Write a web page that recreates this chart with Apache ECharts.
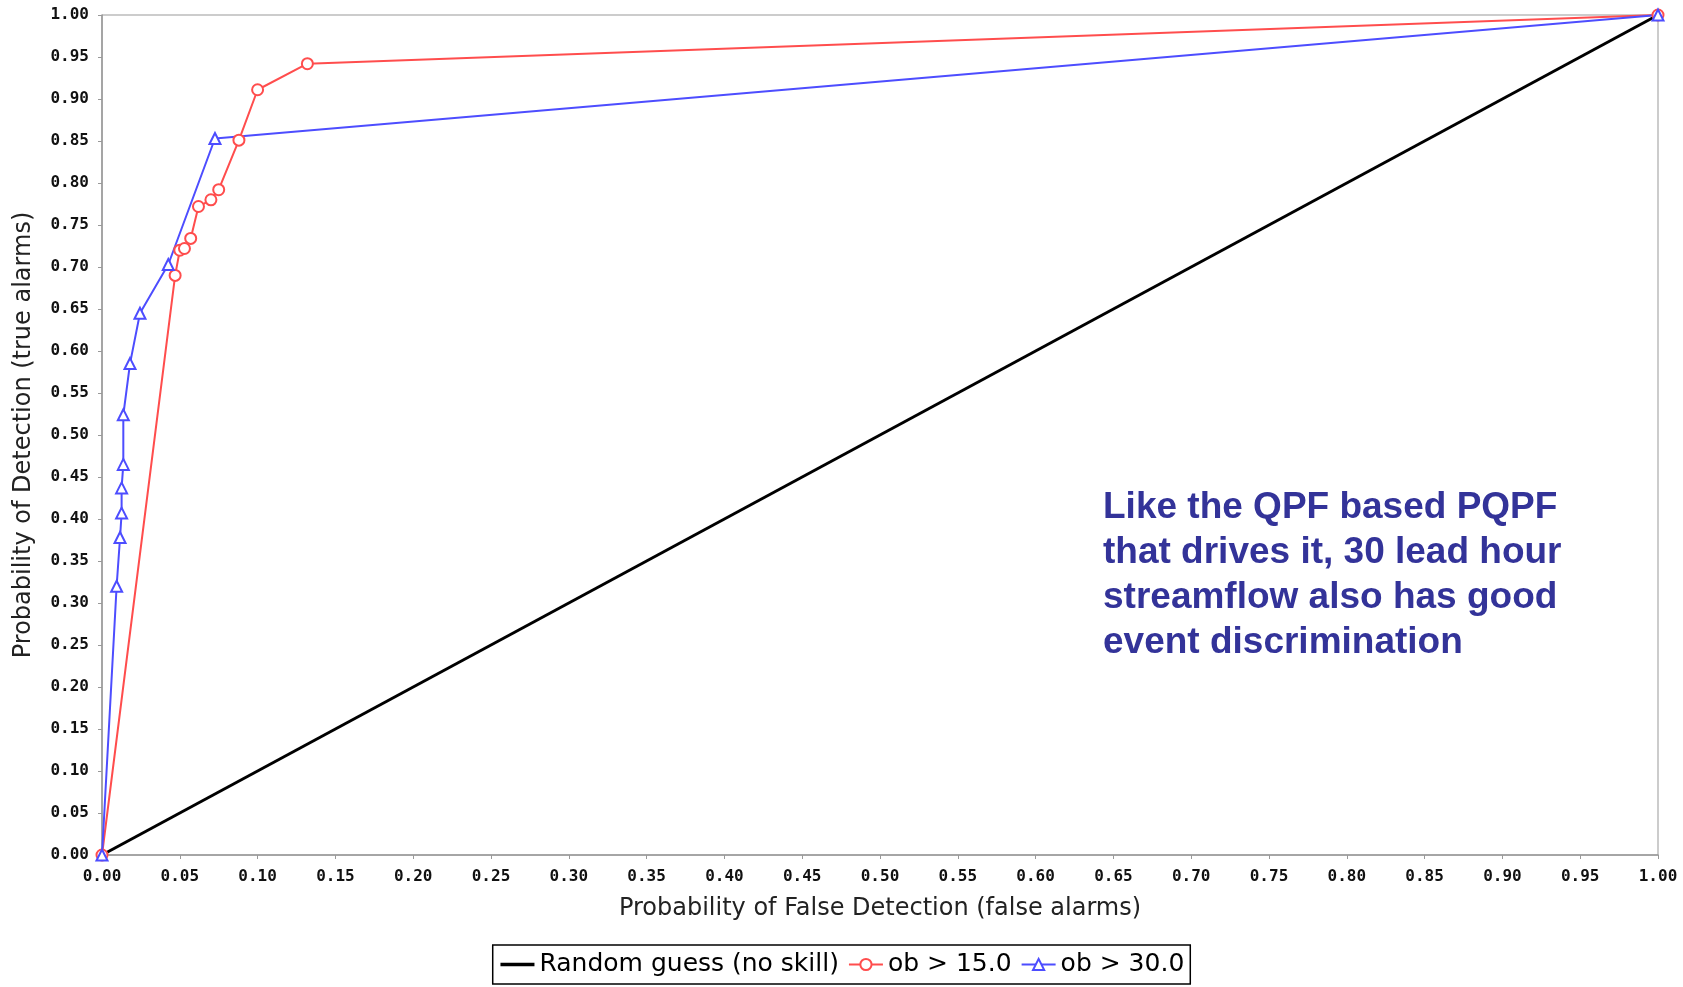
<!DOCTYPE html>
<html>
<head>
<meta charset="utf-8">
<script src="https://cdn.jsdelivr.net/npm/echarts@6/dist/echarts.min.js"></script>
<style>
  html, body { margin: 0; padding: 0; background: #fff; }
  #roc { width: 1683px; height: 987px; }
</style>
</head>
<body>
<div id="roc"></div>
<script>
// ROC curves, 30 lead hour streamflow
var noSkill = [[0, 0], [1, 1]];
var ob15 = [
    [0, 0], [0.047, 0.690], [0.050, 0.720], [0.053, 0.722], [0.057, 0.734],
    [0.062, 0.772], [0.070, 0.780], [0.075, 0.792], [0.088, 0.851],
    [0.100, 0.911], [0.132, 0.942], [1, 1]
];
var ob30 = [
    [0, 0], [0.0094, 0.320], [0.0116, 0.378], [0.0126, 0.407], [0.0126, 0.437],
    [0.0137, 0.465], [0.0137, 0.524], [0.018, 0.585], [0.0244, 0.645],
    [0.0426, 0.703], [0.0726, 0.853], [1, 1]
];
var seriesNames = ['Random guess (no skill)', 'ob > 15.0', 'ob > 30.0'];
var note = 'Like the QPF based PQPF\nthat drives it, 30 lead hour\nstreamflow also has good\nevent discrimination';

var myChart = echarts.init(document.getElementById('roc'));

function tickLabels(margin) {
    return {
        color: '#111',
        fontFamily: 'DejaVu Sans Mono',
        fontWeight: 'bold',
        fontSize: 16,
        margin: margin,
        formatter: function (v) { return v.toFixed(2); }
    };
}

var nameFont = { fontFamily: 'DejaVu Sans', fontSize: 24, color: '#222' };

option = {
    animation: false,
    grid: {
        left: 102, right: 25, top: 15, bottom: 132,
        show: true, borderColor: '#999', borderWidth: 1
    },
    xAxis: {
        type: 'value', min: 0, max: 1, interval: 0.05,
        name: 'Probability of False Detection (false alarms)',
        nameLocation: 'middle', nameGap: 42,
        nameTextStyle: nameFont,
        axisLine: { lineStyle: { color: '#999', width: 1.5 } },
        axisTick: { length: 4, lineStyle: { color: '#999' } },
        axisLabel: tickLabels(14),
        splitLine: { show: false }
    },
    yAxis: {
        type: 'value', min: 0, max: 1, interval: 0.05,
        name: 'Probability of Detection (true alarms)',
        nameLocation: 'middle', nameGap: 66,
        nameTextStyle: nameFont,
        axisLine: { show: true, lineStyle: { color: '#999', width: 1.5 } },
        axisTick: { show: true, length: 4, lineStyle: { color: '#999' } },
        axisLabel: tickLabels(13),
        splitLine: { show: false }
    },
    legend: {
        bottom: 3,
        data: [
            { name: seriesNames[0], lineStyle: { width: 3.5, color: '#000' } },
            seriesNames[1],
            seriesNames[2]
        ],
        borderColor: '#000', borderWidth: 1.5,
        padding: [7, 6],
        itemGap: 9, itemWidth: 34, itemHeight: 14,
        textStyle: { fontFamily: 'DejaVu Sans', fontSize: 25, color: '#000' }
    },
    graphic: [{
        type: 'text',
        left: 1103, top: 485,
        style: {
            text: note,
            fill: '#333399',
            font: 'bold 37px "Liberation Sans"',
            lineHeight: 45
        }
    }],
    series: [{
        name: seriesNames[0],
        type: 'line',
        data: noSkill,
        symbol: 'none',
        lineStyle: { color: '#000', width: 3 },
        itemStyle: { color: 'rgba(0,0,0,0)' }
    }, {
        name: seriesNames[1],
        type: 'line',
        data: ob15,
        symbol: 'emptyCircle', symbolSize: 11,
        lineStyle: { color: '#ff4d4d', width: 2 },
        itemStyle: { color: '#ff4d4d', borderWidth: 1.5 }
    }, {
        name: seriesNames[2],
        type: 'line',
        data: ob30,
        symbol: 'emptyTriangle', symbolSize: 11,
        lineStyle: { color: '#4d4dff', width: 2 },
        itemStyle: { color: '#4d4dff', borderWidth: 1.5 }
    }]
};

myChart.setOption(option);
</script>
</body>
</html>
